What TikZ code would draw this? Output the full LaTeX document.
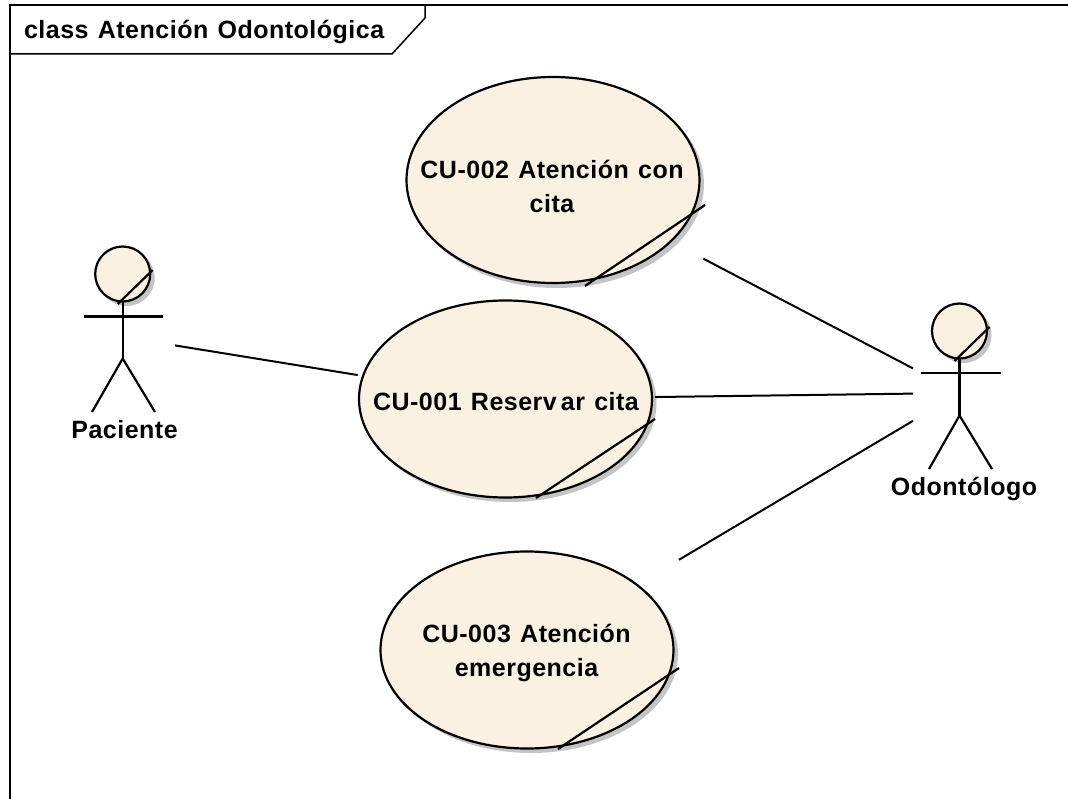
\documentclass[tikz,border=0pt]{standalone}
\usepackage{fontspec}
\setmainfont{Liberation Sans}[LetterSpace=2,WordSpace=1.25]
\usetikzlibrary{shapes.geometric}
\definecolor{ucfill}{HTML}{FBF1E3}
\definecolor{shade}{HTML}{C4C4C4}
\tikzset{
  lbl/.style={font=\fontsize{25}{34}\selectfont\bfseries,align=center,inner sep=0pt,outer sep=0pt,text=black},
  usecase/.style={ellipse,draw=black,line width=2.2pt,fill=ucfill,inner sep=0pt,outer sep=0pt,minimum width=293pt,minimum height=197pt},
  head/.style={circle,draw=black,line width=2.2pt,fill=ucfill,inner sep=0pt,outer sep=0pt,minimum size=55pt},
  hit/.style={rectangle,inner sep=0pt,outer sep=0pt,minimum height=170pt},
  stick/.style={line width=2.2pt,black},
  assoc/.style={line width=2pt,black},
  frameline/.style={line width=1.5pt,black},
  shadowfill/.style={fill=shade,draw=none}
}
\begin{document}
\begin{tikzpicture}[x=1pt,y=-1pt]
\useasboundingbox (0,0) rectangle (1068,799);
% frame
\draw[frameline] (10,799) -- (10,5) -- (1068,5);
\draw[frameline] (10,54) -- (392,54) -- (425,18) -- (425,5);
\node[lbl,anchor=base west] (title) at (24,39) {class Atención Odontológica};
% shadows
\fill[shadowfill] (557,184) ellipse [x radius=147,y radius=104];
\fill[shadowfill] (509.5,403) ellipse [x radius=147,y radius=99];
\fill[shadowfill] (531,654) ellipse [x radius=147,y radius=99];
\fill[shadowfill] (126.7,278) circle [radius=28];
\fill[shadowfill] (963.5,335) circle [radius=28];
% use cases
\node[usecase,minimum height=206pt] (cu2) at (553,180) {};
\node[usecase] (cu1) at (505.5,399) {};
\node[usecase] (cu3) at (527,650) {};
\node[lbl] (cu2t) at (552,186) {CU-002 Atención con\\cita};
\node[lbl,anchor=base] (cu1t) at (506,410.5) {CU-001 Reserv\kern4pt ar cita};
\node[lbl] (cu3t) at (526.5,652.5) {CU-003 Atención\\emergencia};
\draw[stick] ([shift={(32,106)}]cu2.center) -- ([shift={(152,25)}]cu2.center);
\draw[stick] ([shift={(30.5,99)}]cu1.center) -- ([shift={(149.5,20)}]cu1.center);
\draw[stick] ([shift={(31,99)}]cu3.center) -- ([shift={(152,18)}]cu3.center);
% Paciente
\node[head] (pachead) at (122.7,274) {};
\node[hit,minimum width=104pt] (pac) at (123,337) {};
\draw[stick] (pachead.south) -- ++(0,57) coordinate (pachip);
\draw[stick] (84,316.5) -- (163,316.5);
\draw[stick] (92,412) -- (pachip) -- (155,412);
\draw[stick] ([shift={(-5,30)}]pachead.center) -- ([shift={(30,-4)}]pachead.center);
\node[lbl,anchor=base] (pacl) at (124.5,438) {Paciente};
% Odontologo
\node[head] (odohead) at (959.5,331) {};
\node[hit,minimum width=94pt] (odo) at (960,393) {};
\draw[stick] (odohead.south) -- ++(0,57) coordinate (odohip);
\draw[stick] (921,373) -- (1001,373);
\draw[stick] (929,469) -- (odohip) -- (992,469);
\draw[stick] ([shift={(-5,30)}]odohead.center) -- ([shift={(30,-4)}]odohead.center);
\node[lbl,anchor=base] (odol) at (964,495) {Odontólogo};
% associations
\draw[assoc,shorten >=5.4pt] (pac) -- (cu1);
\draw[assoc,shorten <=37pt] (cu2) -- (odo);
\draw[assoc,shorten <=3pt] (cu1) -- (odo);
\draw[assoc,shorten <=49pt] (cu3) -- (odo);
\end{tikzpicture}
\end{document}
